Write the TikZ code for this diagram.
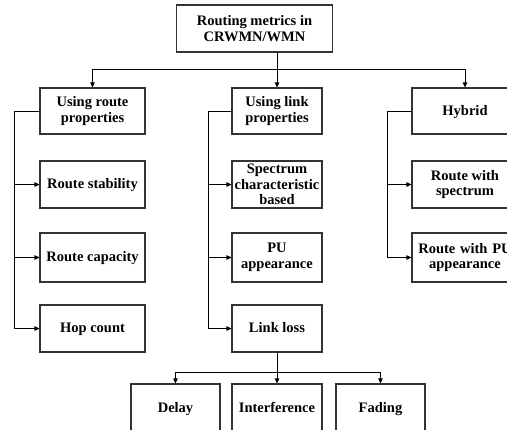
\documentclass[tikz,border=0pt]{standalone}
\usepackage{fontspec}
\setmainfont{Liberation Serif}
\usetikzlibrary{arrows.meta}
\begin{document}
\begin{tikzpicture}[x=1pt,y=-1pt,
  box/.style={draw=black!80,line width=1.1pt,rectangle,inner sep=1pt,
    align=center,font=\fontsize{14.5}{15.5}\selectfont\bfseries},
  oneline/.style={text height=2.4ex,text depth=0.45ex},
  link/.style={draw=black,line width=0.8pt},
  arr/.style={link,-{Triangle[length=5pt,width=4.5pt]}}]
\clip (0,0) rectangle (507,430);
\fill[white] (0,0) rectangle (507,430);

% root
\node[box,minimum width=156pt,minimum height=47pt] (root) at (254.5,28.5) {Routing metrics in\\CRWMN/WMN};

% first level
\node[box,minimum width=105pt,minimum height=46pt] (a) at (92.5,111) {Using route\\properties};
\node[box,minimum width=90pt,minimum height=46pt] (b) at (277,111) {Using link\\properties};
\node[box,oneline,minimum width=106pt,minimum height=46pt] (c) at (465,111) {Hybrid};

% route properties
\node[box,oneline,minimum width=105pt,minimum height=47pt] (a1) at (92.5,184.5) {Route stability};
\node[box,oneline,minimum width=105pt,minimum height=49pt] (a2) at (92.5,257.5) {Route capacity};
\node[box,oneline,minimum width=105pt,minimum height=47pt] (a3) at (92.5,328.5) {Hop count};

% link properties
\node[box,minimum width=90pt,minimum height=47pt,text width=90pt,inner sep=0pt] (b1) at (277,184.5) {Spectrum\\characteristic\\based};
\node[box,minimum width=90pt,minimum height=49pt] (b2) at (277,257.5) {PU\\appearance};
\node[box,oneline,minimum width=90pt,minimum height=47pt] (b3) at (277,328.5) {Link loss};

% hybrid
\node[box,minimum width=106pt,minimum height=47pt] (c1) at (465,184.5) {Route with\\spectrum};
\node[box,minimum width=106pt,minimum height=49pt,text width=100pt] (c2) at (465,257.5) {Route with PU\\appearance};

% link loss causes
\node[box,oneline,minimum width=89pt,minimum height=48pt] (d1) at (175.5,408) {Delay};
\node[box,oneline,minimum width=90pt,minimum height=48pt] (d2) at (277,408) {Interference};
\node[box,oneline,minimum width=89pt,minimum height=48pt] (d3) at (380.5,408) {Fading};

% root to first level
\coordinate (rs) at (277,52);
\coordinate (rj) at (277,69);
\draw[link] (rs) -- (rj);
\draw[arr] (rj) -| (a.north);
\draw[arr] (rj) -- (b.north);
\draw[arr] (rj) -| (c.north);

% side trunks
\coordinate (ta) at (14,111);
\coordinate (tb) at (208,111);
\coordinate (tc) at (387,111);
\draw[link] (a.west) -- (ta);
\draw[arr] (ta) |- (a1.west);
\draw[arr] (ta) |- (a2.west);
\draw[arr] (ta) |- (a3.west);
\draw[link] (b.west) -- (tb);
\draw[arr] (tb) |- (b1.west);
\draw[arr] (tb) |- (b2.west);
\draw[arr] (tb) |- (b3.west);
\draw[link] (c.west) -- (tc);
\draw[arr] (tc) |- (c1.west);
\draw[arr] (tc) |- (c2.west);

% link loss to its causes
\coordinate (lj) at (277,372);
\draw[link] (b3.south) -- (lj);
\draw[arr] (lj) -| (d1.north);
\draw[arr] (lj) -- (d2.north);
\draw[arr] (lj) -| (d3.north);
\end{tikzpicture}
\end{document}
